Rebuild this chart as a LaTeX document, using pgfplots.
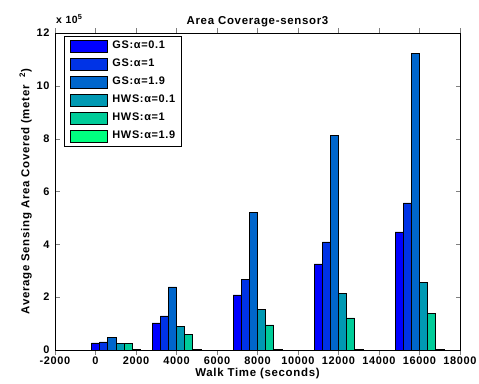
\documentclass[border=0pt]{standalone}
\usepackage{pgfplots}
\pgfplotsset{compat=1.18}
\usepackage{fontspec}
\setmainfont{Liberation Sans}[LetterSpace=6]
\definecolor{c1}{RGB}{0,0,255}
\definecolor{c2}{RGB}{0,51,230}
\definecolor{c3}{RGB}{0,102,204}
\definecolor{c4}{RGB}{0,153,179}
\definecolor{c5}{RGB}{0,204,153}
\definecolor{c6}{RGB}{0,255,128}
\begin{document}
\begin{tikzpicture}
\path[use as bounding box] (-55bp,-34bp) rectangle (424bp,350bp);
\begin{axis}[
  at={(0,0)}, anchor=south west,
  scale only axis, width=405bp, height=317bp,
  xmin=-2000, xmax=18000, ymin=0, ymax=12,
  xtick={-2000,0,2000,4000,6000,8000,10000,12000,14000,16000,18000},
  ytick={0,2,4,6,8,10,12},
  tick align=inside, tick pos=both,
  major tick length=4.5bp,
  scaled x ticks=false,
  /pgf/number format/assume math mode=true,
  /pgf/number format/1000 sep={},
  tick label style={font=\fontsize{11}{12}\selectfont\bfseries},
  xticklabel style={yshift=1bp},
  yticklabel style={xshift=-2bp},
  title={Area Coverage-sensor3},
  title style={font=\fontsize{11.5}{13}\selectfont\bfseries, yshift=-3bp},
  xlabel={Walk Time (seconds)},
  xlabel style={font=\fontsize{11.5}{13}\selectfont\bfseries, yshift=3bp},
  ylabel={Average Sensing Area Covered (meter\ \ \textsuperscript{2})},
  ylabel style={font=\fontsize{11.5}{13}\selectfont\bfseries, yshift=-2bp},
  ybar, bar width=400,
  legend cell align=left,
  legend style={at={(0.0222,0.9905)}, anchor=north west, draw=black,
    font=\fontsize{11}{13}\selectfont\bfseries,
    inner xsep=6bp, inner ysep=3.5bp,
    row sep=5.5bp,
    nodes={inner sep=0pt, text height=9bp, text depth=3bp}},
  legend image code/.code={\draw[#1,draw=black] (0bp,-6bp) rectangle (37bp,6bp); \path[draw=none,fill=none] (0bp,0bp) -- (42bp,0bp);},
  every axis plot/.append style={draw=black, line width=0.5pt},
  clip=false,
]
\addplot[fill=c1, bar shift=-1000] coordinates {(1000,0.27) (4000,1.03) (8000,2.09) (12000,3.26) (16000,4.47)};
\addplot[fill=c2, bar shift=-600] coordinates {(1000,0.31) (4000,1.29) (8000,2.66) (12000,4.09) (16000,5.57)};
\addplot[fill=c3, bar shift=-200] coordinates {(1000,0.47) (4000,2.39) (8000,5.21) (12000,8.12) (16000,11.22)};
\addplot[fill=c4, bar shift=200] coordinates {(1000,0.24) (4000,0.90) (8000,1.53) (12000,2.13) (16000,2.55)};
\addplot[fill=c5, bar shift=600] coordinates {(1000,0.24) (4000,0.59) (8000,0.95) (12000,1.22) (16000,1.38)};
\addplot[fill=c6, bar shift=1000] coordinates {(1000,0.02) (4000,0.02) (8000,0.02) (12000,0.02) (16000,0.02)};
\legend{GS:α=0.1, GS:α=1, GS:α=1.9, HWS:α=0.1, HWS:α=1, HWS:α=1.9}
\node[anchor=south west, font=\fontsize{10.5}{11}\selectfont\bfseries, inner sep=0pt] at (rel axis cs:0,1) [yshift=9bp, xshift=1bp] {x 10\textsuperscript{5}};
\end{axis}
\end{tikzpicture}
\end{document}
